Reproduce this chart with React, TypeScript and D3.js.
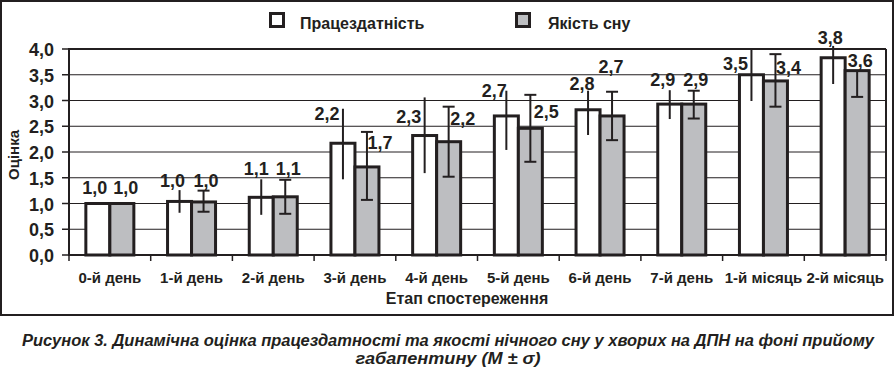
import React from "react";
import * as d3 from "d3";

const categories = ["0-й день", "1-й день", "2-й день", "3-й день", "4-й день", "5-й день", "6-й день", "7-й день", "1-й місяць", "2-й місяць"];
const workValues = [1.0, 1.04, 1.12, 2.17, 2.32, 2.7, 2.82, 2.93, 3.5, 3.83];
const sleepValues = [1.0, 1.03, 1.13, 1.71, 2.2, 2.46, 2.7, 2.93, 3.38, 3.58];
const workLow = [null, 0.82, 0.78, 1.47, 1.59, 2.04, 2.33, 2.64, 2.99, 3.32];
const workHigh = [null, 1.26, 1.47, 2.84, 3.06, 3.19, 3.19, 3.2, 4.0, 4.06];
const sleepLow = [null, 0.84, 0.8, 1.07, 1.52, 1.81, 2.23, 2.65, 2.88, 3.07];
const sleepHigh = [null, 1.25, 1.46, 2.39, 2.88, 3.11, 3.17, 3.19, 3.9, null];
const yTicks = [0, 0.5, 1, 1.5, 2, 2.5, 3, 3.5, 4];
const seriesNames = ["Працездатність", "Якість сну"];

// label nudges (px) relative to bar centre / bar top
const workLabelShift = [[-3, -10], [-7, -14], [-5, -22], [-16, -23], [-16, -13], [-12, -19], [-6, -20], [-7, -18], [-16, -5], [-3, -13.5]];
const sleepLabelShift = [[4, -10], [2.5, -15], [3, -22], [13, -18], [14, -17], [16, -10], [-1, -43], [2, -18], [13, -7], [3, -4]];

const INK = "#231f20";
const GRAY = "#bdbec1";
const FONT = "'Liberation Sans', Arial, sans-serif";

export default function App() {
  const left = 69, right = 886, top = 49, bottom = 255;
  const x = d3.scaleBand<string>().domain(categories).range([left, right]).padding(0);
  const y = d3.scaleLinear().domain([0, 4]).range([bottom, top]);
  const bw = 24;
  const fmt = (v: number) => v.toFixed(1).replace(".", ",");
  const boundaries = d3.range(categories.length + 1).map((i) => left + i * x.bandwidth());

  return (
    <svg width={896} height={371} style={{ position: "absolute", left: 0, top: 0, background: "#fff" }} fontFamily={FONT}>
      <rect x={0} y={0} width={896} height={371} fill="#fff" />
      <rect x={1} y={1} width={892} height={314} fill="none" stroke={INK} strokeWidth={2} />

      {/* legend */}
      <rect x={270.5} y={13.5} width={13} height={13} fill="#fff" stroke={INK} strokeWidth={3} />
      <text x={300} y={29} fontSize={16} fontWeight="bold" fill={INK}>{seriesNames[0]}</text>
      <rect x={516.5} y={13.5} width={13} height={13} fill={GRAY} stroke={INK} strokeWidth={3} />
      <text x={548} y={29} fontSize={16} fontWeight="bold" fill={INK}>{seriesNames[1]}</text>

      {/* grid */}
      {yTicks.filter((t) => t > 0).map((t) => (
        <line key={t} x1={left} x2={right} y1={y(t)} y2={y(t)} stroke={INK} strokeWidth={t === 4 ? 2 : 1} />
      ))}
      <line x1={right} x2={right} y1={top} y2={bottom} stroke={INK} strokeWidth={2} />

      {/* y axis */}
      <line x1={left} x2={left} y1={top - 1} y2={bottom + 1} stroke={INK} strokeWidth={2} />
      {yTicks.map((t) => (
        <g key={t}>
          <line x1={left - 7} x2={left} y1={y(t)} y2={y(t)} stroke={INK} strokeWidth={1.5} />
          <text x={54} y={y(t) + 7} textAnchor="end" fontSize={18} fontWeight="bold" fill={INK}>{fmt(t)}</text>
        </g>
      ))}
      <text transform={`translate(19,155) rotate(-90)`} textAnchor="middle" fontSize={15} fontWeight="bold" fill={INK}>Оцінка</text>

      {/* bars */}
      {categories.map((c, i) => {
        const cx = (x(c) as number) + x.bandwidth() / 2;
        return (
          <g key={c}>
            <rect x={cx - bw} y={y(workValues[i])} width={bw} height={bottom - y(workValues[i])} fill="#fff" stroke={INK} strokeWidth={3} />
            <rect x={cx} y={y(sleepValues[i])} width={bw} height={bottom - y(sleepValues[i])} fill={GRAY} stroke={INK} strokeWidth={3} />
          </g>
        );
      })}

      {/* x axis */}
      <line x1={left} x2={right} y1={bottom} y2={bottom} stroke={INK} strokeWidth={2} />
      {boundaries.map((b, i) => (
        <line key={i} x1={b} x2={b} y1={bottom} y2={bottom + 6} stroke={INK} strokeWidth={1.5} />
      ))}
      {categories.map((c) => (
        <text key={c} x={(x(c) as number) + x.bandwidth() / 2} y={283} textAnchor="middle" fontSize={15} fontWeight="bold" fill={INK}>{c}</text>
      ))}
      <text x={467} y={304} textAnchor="middle" fontSize={16} fontWeight="bold" fill={INK}>Етап спостереження</text>

      {/* error bars */}
      {categories.map((c, i) => {
        const cx = (x(c) as number) + x.bandwidth() / 2;
        const wx = cx - bw / 2, sx = cx + bw / 2;
        const wl = workLow[i], wh = workHigh[i], sl = sleepLow[i], sh = sleepHigh[i];
        return (
          <g key={c} stroke={INK} strokeWidth={2}>
            {wl != null && wh != null && <line x1={wx} x2={wx} y1={y(wh)} y2={y(wl)} />}
            {sl != null && (
              <>
                <line x1={sx} x2={sx} y1={y(sh != null ? sh : sleepValues[i])} y2={y(sl)} />
                <line x1={sx - 6} x2={sx + 6} y1={y(sl)} y2={y(sl)} />
                {sh != null && <line x1={sx - 6} x2={sx + 6} y1={y(sh)} y2={y(sh)} />}
              </>
            )}
          </g>
        );
      })}

      {/* value labels */}
      {categories.map((c, i) => {
        const cx = (x(c) as number) + x.bandwidth() / 2;
        const wx = cx - bw / 2, sx = cx + bw / 2;
        return (
          <g key={c} fontSize={18} fontWeight="bold" fill={INK} textAnchor="middle">
            <text x={wx + workLabelShift[i][0]} y={y(workValues[i]) + workLabelShift[i][1]}>{fmt(workValues[i])}</text>
            <text x={sx + sleepLabelShift[i][0]} y={y(sleepValues[i]) + sleepLabelShift[i][1]}>{fmt(sleepValues[i])}</text>
          </g>
        );
      })}

      {/* caption */}
      <text x={448} y={346} textAnchor="middle" fontSize={16} fontWeight="bold" fontStyle="italic" fill={INK} textLength={852} lengthAdjust="spacingAndGlyphs">
        Рисунок 3. Динамічна оцінка працездатності та якості нічного сну у хворих на ДПН на фоні прийому
      </text>
      <text x={448} y={364} textAnchor="middle" fontSize={16} fontWeight="bold" fontStyle="italic" fill={INK} textLength={185} lengthAdjust="spacingAndGlyphs">
        габапентину (М ± σ)
      </text>
    </svg>
  );
}
